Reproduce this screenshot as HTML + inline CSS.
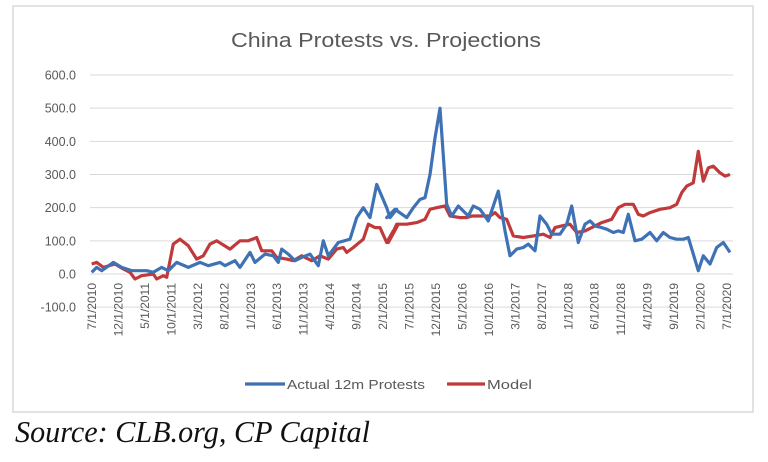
<!DOCTYPE html>
<html><head><meta charset="utf-8"><style>
html,body{margin:0;padding:0;background:#fff;}
svg{display:block;font-family:"Liberation Sans",sans-serif;}
</style></head><body>
<svg id="s" width="768" height="462" viewBox="0 0 768 462" xmlns="http://www.w3.org/2000/svg">
<rect x="13" y="6" width="740" height="406" fill="#fff" stroke="#d9d9d9" stroke-width="1.5"/>
<text x="386" y="47" text-anchor="middle" font-size="20" fill="#595959" textLength="310" lengthAdjust="spacingAndGlyphs">China Protests vs. Projections</text>
<g id="grid" stroke="#d9d9d9" stroke-width="1"></g>
<g id="ylab" font-size="12.5" fill="#595959" text-anchor="end"></g>
<g id="xlab" font-size="12" fill="#595959" text-anchor="end"></g>
<polyline id="red" fill="none" stroke="#c0393b" stroke-width="3.2" stroke-linejoin="round"/>
<polyline id="blue" fill="none" stroke="#3f72b5" stroke-width="3.2" stroke-linejoin="round"/>
<line x1="245" y1="384" x2="285" y2="384" stroke="#3f72b5" stroke-width="3.2"/>
<text x="287" y="389" font-size="13" fill="#595959" textLength="138" lengthAdjust="spacingAndGlyphs">Actual 12m Protests</text>
<line x1="447" y1="384" x2="485" y2="384" stroke="#c0393b" stroke-width="3.2"/>
<text x="487" y="389" font-size="13" fill="#595959" textLength="45" lengthAdjust="spacingAndGlyphs">Model</text>
<text x="15" y="442" font-family="Liberation Serif,serif" font-style="italic" font-size="31" fill="#111" textLength="355" lengthAdjust="spacingAndGlyphs">Source: CLB.org, CP Capital</text>
</svg>
<script>
var Y=function(v){return 274-v*0.3317;};
var g=document.getElementById('grid'),yl=document.getElementById('ylab'),xl=document.getElementById('xlab');
var ns='http://www.w3.org/2000/svg';
for(var v=-100;v<=600;v+=100){var l=document.createElementNS(ns,'line');l.setAttribute('x1',90);l.setAttribute('x2',733);l.setAttribute('y1',Y(v));l.setAttribute('y2',Y(v));g.appendChild(l);
var t=document.createElementNS(ns,'text');t.setAttribute('x',76);t.setAttribute('y',Y(v)+4.5);t.textContent=v.toFixed(1);yl.appendChild(t);}
var labs=['7/1/2010','12/1/2010','5/1/2011','10/1/2011','3/1/2012','8/1/2012','1/1/2013','6/1/2013','11/1/2013','4/1/2014','9/1/2014','2/1/2015','7/1/2015','12/1/2015','5/1/2016','10/1/2016','3/1/2017','8/1/2017','1/1/2018','6/1/2018','11/1/2018','4/1/2019','9/1/2019','2/1/2020','7/1/2020'];
for(var i=0;i<labs.length;i++){var x=92+i*26.46;var t=document.createElementNS(ns,'text');t.setAttribute('transform','translate('+(x+4)+',283) rotate(-90)');t.textContent=labs[i];xl.appendChild(t);}
function pts(a,b){var s=[];a.forEach(function(p){s.push((p[0]/3).toFixed(1)+','+Y(p[1]).toFixed(1));});b.forEach(function(p){s.push((380+p[0]/3).toFixed(1)+','+Y(p[1]).toFixed(1));});return s.join(' ');}
var b1=[[275,5],[290,20],[305,10],[340,35],[365,20],[395,10],[440,10],[460,5],[485,20],[505,10],[530,35],[565,20],[600,35],[625,25],[660,35],[675,25],[705,40],[720,20],[750,65],[765,35],[795,60],[820,55],[835,35],[845,75],[865,60],[885,40],[905,50],[930,60],[955,25],[970,100],[985,55],[1015,95],[1050,105],[1070,170],[1090,200],[1110,170],[1130,270],[1160,200],[1170,170],[1190,195]];
var b2=[[20,170],[45,195],[80,170],[100,200],[120,225],[135,230],[150,300],[165,410],[180,500],[200,210],[215,175],[235,205],[250,190],[265,175],[280,205],[300,195],[325,160],[355,250],[375,130],[390,55],[410,75],[430,80],[445,90],[465,70],[480,175],[500,150],[515,120],[540,120],[560,150],[575,205],[595,95],[615,150],[630,160],[645,145],[665,140],[680,135],[700,125],[715,130],[730,125],[745,180],[765,100],[785,105],[810,125],[830,100],[850,125],[870,110],[890,105],[910,105],[925,110],[955,10],[970,55],[990,30],[1010,80],[1030,95],[1050,65]];
var r1=[[275,30],[290,35],[310,20],[345,30],[370,15],[390,5],[405,-15],[425,-5],[460,0],[470,-15],[490,-5],[500,-10],[520,90],[540,105],[565,85],[590,45],[610,55],[630,90],[650,100],[690,75],[720,100],[745,100],[770,110],[785,70],[815,70],[830,50],[860,45],[880,40],[905,55],[935,40],[960,55],[985,45],[1010,75],[1030,80],[1040,65],[1060,80],[1090,105],[1105,150],[1125,140],[1140,140],[1160,95],[1180,130],[1195,150]];
var r2=[[25,95],[50,150],[80,150],[110,155],[135,165],[150,195],[170,200],[195,205],[210,175],[240,170],[260,170],[275,175],[300,175],[330,175],[345,185],[360,170],[380,165],[400,115],[430,110],[460,115],[490,120],[510,110],[525,140],[545,145],[570,150],[590,125],[615,130],[645,145],[665,155],[695,165],[715,200],[735,210],[760,210],[775,180],[790,175],[810,185],[840,195],[870,200],[890,210],[905,245],[920,265],[940,275],[955,370],[970,280],[985,320],[1000,325],[1020,305],[1035,295],[1050,300]];
document.getElementById('blue').setAttribute('points',pts(b1,b2));
document.getElementById('red').setAttribute('points',pts(r1,r2));
</script>
</body></html>
